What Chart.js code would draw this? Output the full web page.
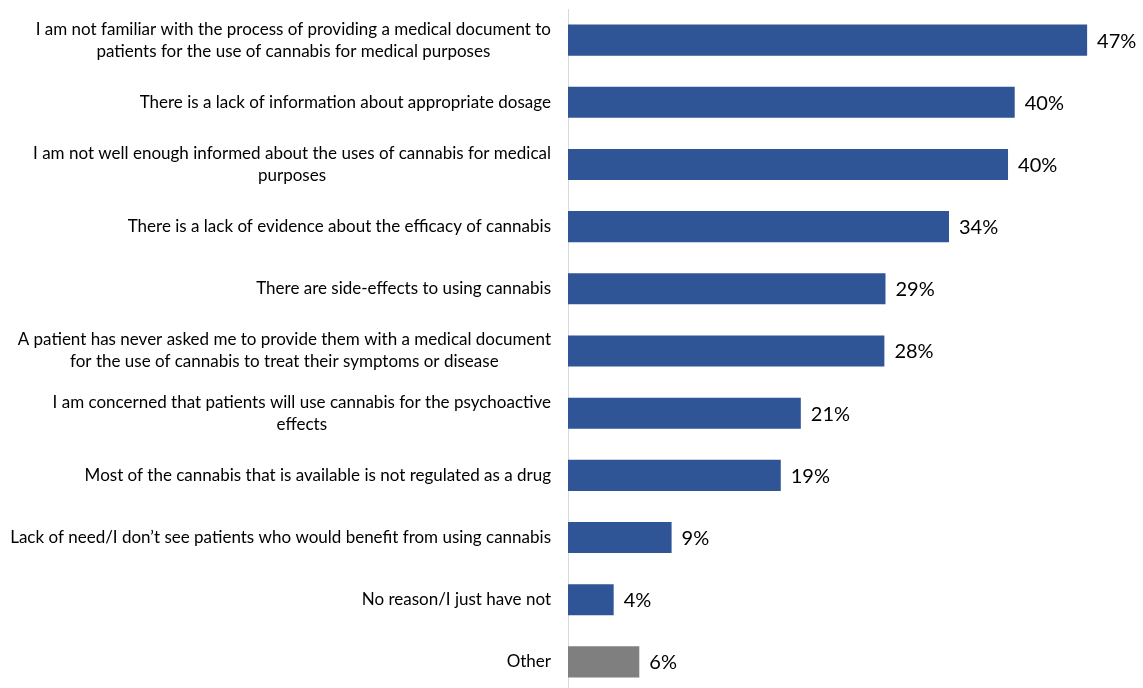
<!DOCTYPE html>
<html>
<head>
<meta charset="utf-8">
<script src="https://cdn.jsdelivr.net/npm/chart.js@4/dist/chart.umd.min.js"></script>
<style>
  html, body { margin: 0; padding: 0; background: #fff; overflow: hidden; }
  #wrap { width: 1143px; height: 693px; position: relative; }
</style>
</head>
<body>
<div id="wrap"><canvas id="c"></canvas></div>
<script>
const categories = [
  ["I am not familiar with the process of providing a medical document to", "patients for the use of cannabis for medical purposes"],
  ["There is a lack of information about appropriate dosage"],
  ["I am not well enough informed about the uses of cannabis for medical", "purposes"],
  ["There is a lack of evidence about the efficacy of cannabis"],
  ["There are side-effects to using cannabis"],
  ["A patient has never asked me to provide them with a medical document", "for the use of cannabis to treat their symptoms or disease"],
  ["I am concerned that patients will use cannabis for the psychoactive", "effects"],
  ["Most of the cannabis that is available is not regulated as a drug"],
  ["Lack of need/I don\u2019t see patients who would benefit from using cannabis"],
  ["No reason/I just have not"],
  ["Other"]
];
const values = [46.6, 40.1, 39.5, 34.2, 28.5, 28.4, 20.9, 19.1, 9.3, 4.1, 6.4];
const valueLabels = ["47%", "40%", "40%", "34%", "29%", "28%", "21%", "19%", "9%", "4%", "6%"];
const barColors = ["#2F5597","#2F5597","#2F5597","#2F5597","#2F5597","#2F5597","#2F5597","#2F5597","#2F5597","#2F5597","#7F7F7F"];

const FONT = "Lato, 'Open Sans', sans-serif";

const labelPlugin = {
  id: 'customLabels',
  afterDatasetsDraw(chart) {
    const ctx = chart.ctx;
    const meta = chart.getDatasetMeta(0);
    const yScale = chart.scales.y;
    ctx.save();
    ctx.font = "17px " + FONT;
    ctx.fillStyle = "#000";
    ctx.textBaseline = "middle";
    ctx.textAlign = "center";
    const rightEdge = chart.chartArea.left - 17;
    const lineH = 22;
    categories.forEach((lines, i) => {
      const yc = yScale.getPixelForValue(i);
      let maxW = 0;
      lines.forEach(l => { maxW = Math.max(maxW, ctx.measureText(l).width); });
      const cx = rightEdge - maxW / 2;
      const y0 = yc - (lines.length - 1) * lineH / 2;
      lines.forEach((l, k) => ctx.fillText(l, cx, y0 + k * lineH));
    });
    ctx.font = "20px " + FONT;
    ctx.textAlign = "left";
    meta.data.forEach((bar, i) => {
      ctx.fillText(valueLabels[i], bar.x + 10, bar.y + 1);
    });
    ctx.restore();
  }
};

new Chart(document.getElementById('c'), {
  type: 'bar',
  data: {
    labels: categories,
    datasets: [{
      data: values,
      backgroundColor: barColors,
      borderWidth: 0,
      barPercentage: 0.5,
      categoryPercentage: 1.0
    }]
  },
  options: {
    indexAxis: 'y',
    responsive: true,
    maintainAspectRatio: false,
    animation: false,
    layout: { padding: { top: 9, right: 18, bottom: 0, left: 0 } },
    plugins: { legend: { display: false }, tooltip: { enabled: false } },
    scales: {
      x: { display: false, min: 0, max: 50 },
      y: {
        grid: { display: false, drawTicks: false },
        border: { display: true, color: '#D9D9D9', width: 1 },
        ticks: { display: false },
        afterFit(scale) { scale.width = 568; }
      }
    }
  },
  plugins: [labelPlugin]
});
</script>
</body>
</html>
